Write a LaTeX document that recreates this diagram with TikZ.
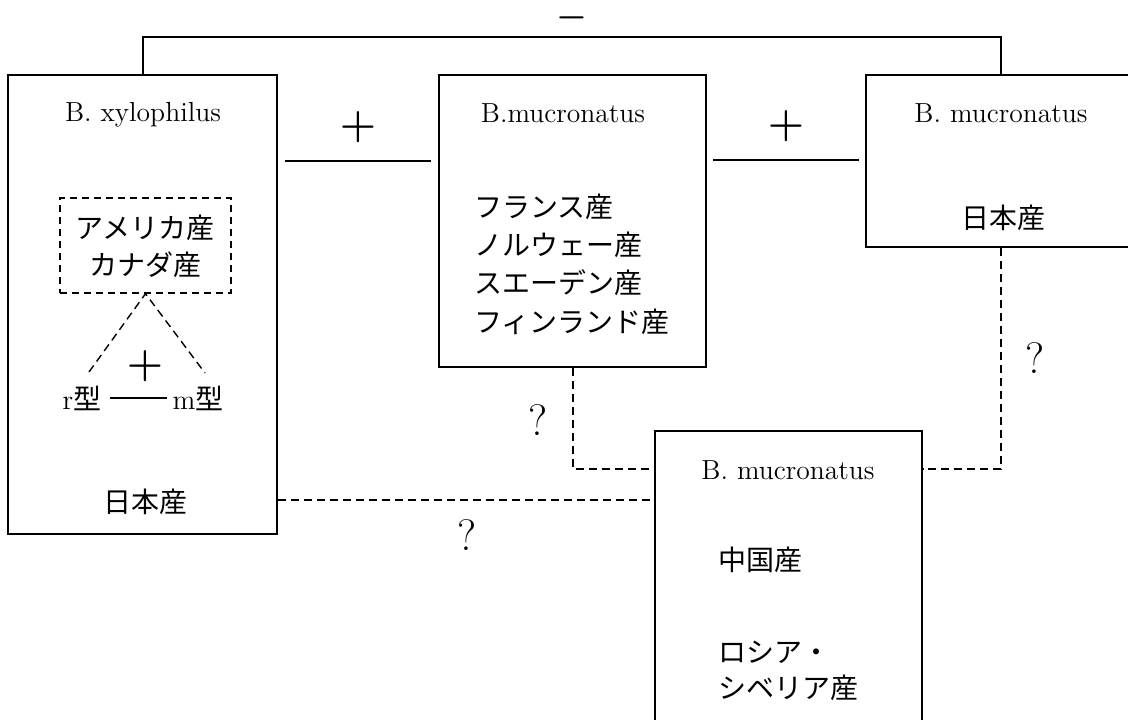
\documentclass[tikz,border=0pt]{standalone}
\usepackage{fontspec}
\newfontfamily\jp{Noto Sans CJK JP}
\begin{document}
\begin{tikzpicture}[x=0.5pt,y=-0.5pt]
\tikzset{
 box/.style={draw, line width=0.8pt, inner sep=0pt},
 dbox/.style={draw, line width=0.7pt, dash pattern=on 3.5pt off 2.5pt, inner sep=0pt},
 lat/.style={font=\fontsize{13.8}{16}\selectfont, inner sep=0pt},
 jpn/.style={font=\fontsize{14}{16}\selectfont\jp, inner sep=0pt},
 plus/.style={font=\fontsize{20}{22}\selectfont\boldmath, inner sep=0pt},
 qm/.style={font=\fontsize{22}{24}\selectfont, inner sep=0pt},
 link/.style={line width=0.8pt},
 dlink/.style={line width=0.7pt, dash pattern=on 4pt off 2.5pt},
}
\useasboundingbox (0,0) rectangle (1128,719);
% boxes
\node[box, minimum width=134.5pt, minimum height=229.5pt] (b1) at (142.5,304.5) {};
\node[box, minimum width=133.5pt, minimum height=146pt] (b2) at (572.5,221) {};
\node[box, minimum width=136pt, minimum height=86pt] (b3) at (1002,161) {};
\node[box, minimum width=133.5pt, minimum height=150pt] (b4) at (788.5,581) {};
\node[dbox, minimum width=85.5pt, minimum height=47.5pt] (db) at (145.5,245.5) {};
% texts box1
\node[lat] (t1) at (143,115) {B. xylophilus};
\node[jpn] (t1a) at (145,228) {アメリカ産};
\node[jpn] (t1b) at (145,265) {カナダ産};
\node[plus] (p0) at (145,366) {$+$};
\node[font=\fontsize{14}{16}\selectfont, inner sep=0pt] (rt) at (82,398) {r{\jp 型}};
\node[font=\fontsize{14}{16}\selectfont, inner sep=0pt] (mt) at (198,398) {m{\jp 型}};
\node[jpn] (t1c) at (145,502) {日本産};
% texts box2
\node[lat] (t2) at (563,113) {B.mucronatus};
\node[jpn, anchor=west] (t2a) at (474,207) {フランス産};
\node[jpn, anchor=west] (t2b) at (474,245) {ノルウェー産};
\node[jpn, anchor=west] (t2c) at (474,283) {スエーデン産};
\node[jpn, anchor=west] (t2d) at (474,322) {フィンランド産};
% texts box3
\node[lat] (t3) at (1001,113) {B. mucronatus};
\node[jpn] (t3a) at (1003,218) {日本産};
% texts box4
\node[lat] (t4) at (788,470) {B. mucronatus};
\node[jpn, anchor=west] (t4a) at (718,560) {中国産};
\node[jpn, anchor=west] (t4b) at (718,652) {ロシア・};
\node[jpn, anchor=west] (t4c) at (718,688) {シベリア産};
% symbols
\node[font=\fontsize{18}{20}\selectfont\boldmath, inner sep=0pt] (mn) at (572,18) {$-$};
\node[plus] (p1) at (358,127) {$+$};
\node[plus] (p2) at (786,126) {$+$};
\node[qm] (q1) at (538,420) {?};
\node[qm] (q2) at (1035,358) {?};
\node[qm] (q3) at (467,535) {?};
% coordinates
\coordinate (c1) at (143,37);
\coordinate (c2) at (1001,37);
\coordinate (l1a) at (285,161);
\coordinate (l1b) at (431,161);
\coordinate (l2a) at (713,160);
\coordinate (l2b) at (859,160);
\coordinate (d1) at (573,469);
\coordinate (d2) at (1001,469);
\coordinate (d3) at (0,500);
\coordinate (ta) at (89,372);
\coordinate (tb) at (205,373);
\coordinate (ra) at (110,398);
\coordinate (rb) at (167,398);
% connectors
\draw[link] (c1 |- b1.north) -- (c1) -- (c2) -- (c2 |- b3.north);
\draw[link] (l1a) -- (l1b);
\draw[link] (l2a) -- (l2b);
\draw[link] (ra) -- (rb);
\draw[dlink] (d1 |- b2.south) -- (d1) -- (d1 -| b4.west);
\draw[dlink] (d2 |- b3.south) -- (d2) -- (d2 -| b4.east);
\draw[dlink] (d3 -| b1.east) -- (d3 -| b4.west);
\draw[dlink] (ta) -- (db.south) -- (tb);
\end{tikzpicture}
\end{document}
